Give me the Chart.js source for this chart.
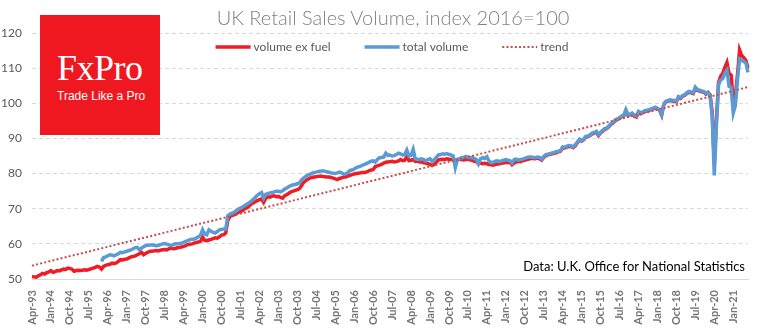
<!DOCTYPE html>
<html>
<head>
<meta charset="utf-8">
<script src="https://cdn.jsdelivr.net/npm/chart.js@4.4.0/dist/chart.umd.min.js"></script>
<style>
  body { margin: 0; background: #fff; }
  #wrap { position: relative; width: 770px; height: 330px; overflow: hidden; }
  #title { position: absolute; left: 0; top: 5px; width: 786px; text-align: center;
           font: 300 20px Lato, sans-serif; color: #808080; }
  #logo { position: absolute; left: 40px; top: 15px; width: 120px; height: 120px; background: #ef1820; }
  #logo .brand { position: absolute; left: 17px; top: 33px; font: 36px "Liberation Serif", serif;
                 color: #fff; line-height: 40px; letter-spacing: -0.5px; }
  #logo .tag { position: absolute; left: 17px; top: 74px; font: 12px "Liberation Sans", sans-serif;
               color: #fff; line-height: 14px; }
  #source { position: absolute; right: 25px; top: 258px; font: 13px Lato, sans-serif; color: #000; }
</style>
</head>
<body>
<div id="wrap">
  <canvas id="myChart" width="770" height="330"></canvas>
  <div id="title">UK Retail Sales Volume, index 2016=100</div>
  <div id="logo"><div class="brand">FxPro</div><div class="tag">Trade Like a Pro</div></div>
  <div id="source">Data: U.K. Office for National Statistics</div>
</div>
<script>
// monthly series, Apr-93 .. Aug-21
var startYear = 1993, startMonth = 3, monthCount = 341;
var monthNames = ['Jan','Feb','Mar','Apr','May','Jun','Jul','Aug','Sep','Oct','Nov','Dec'];

var volumeExFuel = [
  50.7, 50.6, 50.5, 50.9, 51.2, 51.6, 51.4, 51.8, 52.0,                  // 1993 Apr-Dec
  52.4, 51.9, 52.1, 52.4, 52.3, 52.6, 52.8, 52.7, 53.1, 53.0, 52.8, 52.2, // 1994
  52.4, 52.5, 52.4, 52.5, 52.6, 52.5, 52.7, 52.9, 53.1, 53.3, 53.6, 53.4, // 1995
  52.8, 53.6, 53.9, 54.1, 54.2, 54.5, 54.4, 54.6, 55.0, 55.5, 55.4, 55.6, // 1996
  55.7, 56.0, 56.3, 56.4, 56.6, 56.9, 57.2, 57.6, 56.9, 57.3, 57.6, 57.9, // 1997
  57.9, 58.0, 58.1, 58.0, 58.2, 58.3, 58.4, 58.3, 58.6, 58.8, 58.6, 58.7, // 1998
  58.9, 59.0, 59.1, 59.3, 59.5, 59.8, 59.9, 60.0, 60.2, 60.4, 60.5, 60.7, // 1999
  61.9, 61.0, 60.9, 61.1, 61.3, 61.5, 61.7, 61.6, 62.0, 62.5, 62.6, 63.1, // 2000
  66.7, 67.8, 68.0, 68.3, 68.6, 69.0, 69.2, 69.5, 70.0, 70.2, 70.7, 71.3, // 2001
  71.6, 72.0, 72.3, 72.6, 72.8, 71.8, 72.9, 73.4, 73.3, 73.6, 73.7, 73.4, // 2002
  73.5, 73.2, 73.0, 73.7, 74.0, 74.4, 74.8, 75.0, 75.2, 75.4, 75.7, 76.6, // 2003
  77.5, 78.0, 78.4, 78.7, 78.9, 79.0, 79.1, 79.2, 79.3, 79.2, 79.1, 79.0, // 2004
  79.0, 78.9, 78.7, 78.5, 78.3, 78.6, 78.8, 79.0, 79.0, 79.3, 79.5, 79.7, // 2005
  79.9, 80.0, 80.1, 80.2, 80.3, 80.3, 80.5, 80.8, 81.0, 81.1, 82.0, 82.2, // 2006
  82.4, 82.6, 83.0, 83.2, 83.3, 83.4, 83.5, 83.3, 83.4, 83.6, 84.0, 83.7, // 2007
  83.8, 84.9, 83.7, 83.8, 84.0, 83.5, 83.6, 83.3, 83.3, 83.1, 83.0, 82.8, // 2008
  82.6, 82.3, 82.6, 83.2, 83.9, 84.0, 84.1, 84.0, 84.2, 84.1, 84.0, 84.1, // 2009
  83.7, 84.0, 84.1, 84.0, 83.9, 84.0, 84.0, 83.9, 83.8, 83.5, 83.4, 82.8, // 2010
  83.0, 82.8, 82.9, 82.8, 82.6, 82.5, 82.4, 82.6, 82.7, 82.8, 83.0, 83.0, // 2011
  83.2, 83.1, 83.3, 82.5, 83.0, 83.3, 83.5, 83.4, 83.7, 83.8, 84.0, 84.1, // 2012
  84.3, 84.3, 84.2, 84.4, 84.2, 83.8, 84.6, 85.1, 85.3, 85.5, 85.6, 85.8, // 2013
  85.9, 86.2, 86.4, 87.3, 87.3, 87.5, 87.7, 87.7, 87.4, 87.9, 88.8, 89.6, // 2014
  89.2, 89.6, 90.4, 90.5, 90.8, 91.3, 91.5, 91.8, 90.8, 91.6, 92.1, 92.6, // 2015
  92.8, 93.4, 94.0, 94.4, 95.1, 95.4, 95.7, 96.2, 96.4, 97.8, 96.6, 96.7, // 2016
  97.0, 96.3, 96.1, 97.4, 97.0, 97.3, 97.7, 97.8, 98.0, 98.2, 98.4, 98.7, // 2017
  98.4, 98.0, 96.6, 99.6, 100.4, 100.6, 100.8, 100.7, 100.5, 100.4, 101.7, 101.4, // 2018
  102.0, 102.3, 102.8, 103.2, 103.0, 102.8, 104.3, 103.7, 103.5, 103.3, 103.2, 102.6, // 2019
  103.1, 102.4, 97.5, 82.5, 95.5, 105.8, 107.7, 108.5, 110.2, 111.6, 108.5, 108.0, // 2020
  100.6, 102.2, 108.0, 115.2, 113.6, 113.0, 112.2, 110.0                  // 2021 Jan-Aug
];

var totalVolume = [
  null, null, null, null, null, null, null, null, null,                  // 1993
  null, null, null, null, null, null, null, null, null, null, null, null, // 1994
  null, null, null, null, null, null, null, null, null, null, null, null, // 1995
  55.0, 56.1, 56.3, 56.6, 56.9, 56.8, 56.6, 56.9, 57.2, 57.6, 57.5, 57.7, // 1996
  57.9, 58.1, 58.3, 58.6, 58.9, 59.0, 58.3, 58.8, 59.2, 59.5, 59.6, 59.7, // 1997
  59.7, 59.6, 59.5, 59.6, 59.8, 60.0, 60.1, 59.9, 59.7, 59.5, 59.8, 60.0, // 1998
  60.0, 60.1, 60.2, 60.4, 60.7, 60.9, 61.2, 61.3, 61.4, 61.6, 62.0, 62.4, // 1999
  64.0, 62.8, 62.6, 64.0, 63.6, 63.3, 63.1, 63.5, 64.0, 64.1, 64.2, 64.2, // 2000
  68.0, 68.5, 68.7, 69.0, 69.4, 69.9, 70.2, 70.5, 70.9, 71.3, 71.6, 72.1, // 2001
  72.6, 73.2, 73.8, 74.3, 74.6, 73.0, 74.1, 74.3, 74.5, 74.6, 74.8, 75.0, // 2002
  75.0, 74.8, 75.1, 75.6, 75.9, 76.3, 76.6, 76.8, 76.9, 77.1, 77.4, 78.2, // 2003
  78.7, 79.2, 79.6, 79.8, 80.1, 80.3, 80.4, 80.6, 80.7, 80.8, 80.7, 80.5, // 2004
  80.4, 80.2, 80.1, 80.0, 80.2, 80.4, 80.2, 79.8, 79.9, 80.3, 80.9, 81.0, // 2005
  81.3, 81.7, 81.9, 82.1, 82.4, 82.6, 82.9, 83.2, 83.5, 83.6, 83.3, 84.0, // 2006
  84.5, 84.6, 84.7, 85.8, 85.2, 85.3, 85.0, 85.1, 85.4, 85.8, 85.6, 85.3, // 2007
  85.4, 86.7, 85.0, 85.2, 86.9, 84.2, 84.1, 84.0, 84.2, 84.0, 83.6, 84.0, // 2008
  84.2, 83.5, 84.0, 84.6, 85.3, 85.4, 85.6, 85.5, 85.7, 85.4, 85.3, 85.0, // 2009
  81.7, 84.0, 84.2, 84.5, 84.6, 84.9, 84.7, 84.6, 84.5, 84.3, 84.0, 82.8, // 2010
  84.2, 84.5, 84.3, 84.8, 83.6, 83.1, 83.2, 83.5, 83.6, 83.4, 83.6, 83.8, // 2011
  84.0, 83.8, 83.7, 83.0, 84.0, 84.1, 83.8, 84.0, 84.1, 84.3, 84.6, 84.7, // 2012
  84.7, 84.6, 84.5, 84.7, 84.6, 84.1, 84.9, 85.4, 85.5, 85.7, 85.9, 86.0, // 2013
  86.2, 86.4, 86.6, 87.6, 87.5, 87.8, 88.0, 87.9, 87.6, 88.2, 89.0, 89.8, // 2014
  89.4, 89.8, 90.6, 90.7, 91.0, 91.5, 91.7, 92.0, 91.0, 91.8, 92.3, 92.8, // 2015
  93.0, 93.6, 94.2, 94.6, 95.3, 95.6, 95.9, 96.4, 96.6, 98.2, 96.8, 96.9, // 2016
  97.2, 96.6, 96.4, 97.7, 97.3, 97.5, 97.9, 98.0, 98.2, 98.4, 98.6, 98.9, // 2017
  98.6, 98.2, 96.8, 99.8, 100.6, 100.8, 101.0, 100.9, 100.8, 100.6, 101.9, 101.6, // 2018
  102.2, 102.5, 103.0, 103.4, 103.2, 103.0, 104.6, 103.9, 103.7, 103.5, 103.4, 102.8, // 2019
  103.1, 102.0, 96.3, 79.5, 93.4, 105.3, 106.6, 107.0, 108.6, 109.4, 104.8, 104.5, // 2020
  97.2, 99.3, 106.6, 112.6, 112.2, 111.9, 111.4, 108.8                    // 2021 Jan-Aug
];

// linear trend, end points only
var trendStart = 53.8;
var trendEnd = 104.6;

var yTicks = [50, 60, 70, 80, 90, 100, 110, 120];
var labelEvery = 9;

// build month labels like "Apr-93"
var labels = [];
for (var i = 0; i < monthCount; i++) {
    var mi = startMonth + i;
    var yr = startYear + Math.floor(mi / 12);
    labels.push(monthNames[mi % 12] + '-' + String(yr).slice(2));
}

// simple legend drawn inside the plot area, like the original
var innerLegend = {
    id: 'innerLegend',
    afterDraw: function(chart) {
        var ctx = chart.ctx;
        var sets = chart.data.datasets;
        var lineLen = 35, gap = 3, itemGap = 34, cy = 47;
        ctx.save();
        ctx.font = '12px Lato';
        var total = 0;
        sets.forEach(function(ds, k) {
            total += lineLen + gap + ctx.measureText(ds.label).width + (k < sets.length - 1 ? itemGap : 0);
        });
        var x = 392 - total / 2;
        sets.forEach(function(ds) {
            ctx.beginPath();
            ctx.strokeStyle = ds.borderColor;
            ctx.lineWidth = ds.borderWidth;
            ctx.setLineDash(ds.borderDash || []);
            ctx.moveTo(x, cy);
            ctx.lineTo(x + lineLen, cy);
            ctx.stroke();
            ctx.setLineDash([]);
            x += lineLen + gap;
            ctx.fillStyle = '#595959';
            ctx.textBaseline = 'middle';
            ctx.fillText(ds.label, x, cy);
            x += ctx.measureText(ds.label).width + itemGap;
        });
        ctx.restore();
    }
};

var ctx = document.getElementById('myChart').getContext('2d');
var myChart = new Chart(ctx, {
    type: 'line',
    data: {
        labels: labels,
        datasets: [{
            label: 'volume ex fuel',
            data: volumeExFuel,
            borderColor: '#ee1c25',
            borderWidth: 3.5,
            order: 2
        }, {
            label: 'total volume',
            data: totalVolume,
            borderColor: '#5b9bd5',
            borderWidth: 3.5,
            order: 1
        }, {
            label: 'trend',
            data: [{ x: labels[0], y: trendStart }, { x: labels[monthCount - 1], y: trendEnd }],
            borderColor: '#c0504d',
            borderWidth: 2,
            borderDash: [2, 2.2],
            order: 0
        }]
    },
    options: {
        responsive: false,
        animation: false,
        devicePixelRatio: 1,
        elements: { point: { radius: 0 }, line: { tension: 0, borderCapStyle: 'butt' } },
        layout: { padding: { top: 33, right: 22, left: 0, bottom: 0 } },
        plugins: { legend: { display: false }, tooltip: { enabled: false } },
        scales: {
            x: {
                grid: { display: false },
                border: { display: true, color: '#d9d9d9', width: 1 },
                ticks: {
                    autoSkip: false,
                    minRotation: 90,
                    maxRotation: 90,
                    padding: 3,
                    color: '#757575',
                    font: { family: 'Lato', size: 11, weight: 'bold' },
                    callback: function(value, index) {
                        return index % labelEvery === 0 ? labels[index] : '';
                    }
                },
                afterFit: function(scale) { scale.height = 51; }
            },
            y: {
                min: yTicks[0],
                max: yTicks[yTicks.length - 1],
                afterBuildTicks: function(scale) {
                    scale.ticks = yTicks.map(function(v) { return { value: v }; });
                },
                grid: { color: '#d9d9d9', drawTicks: false, lineWidth: 1 },
                border: { display: false, dash: [4, 3] },
                ticks: {
                    padding: 10,
                    color: '#595959',
                    font: { family: 'Lato', size: 12 }
                },
                afterFit: function(scale) { scale.width = 32; }
            }
        }
    },
    plugins: [innerLegend]
});
</script>
</body>
</html>
